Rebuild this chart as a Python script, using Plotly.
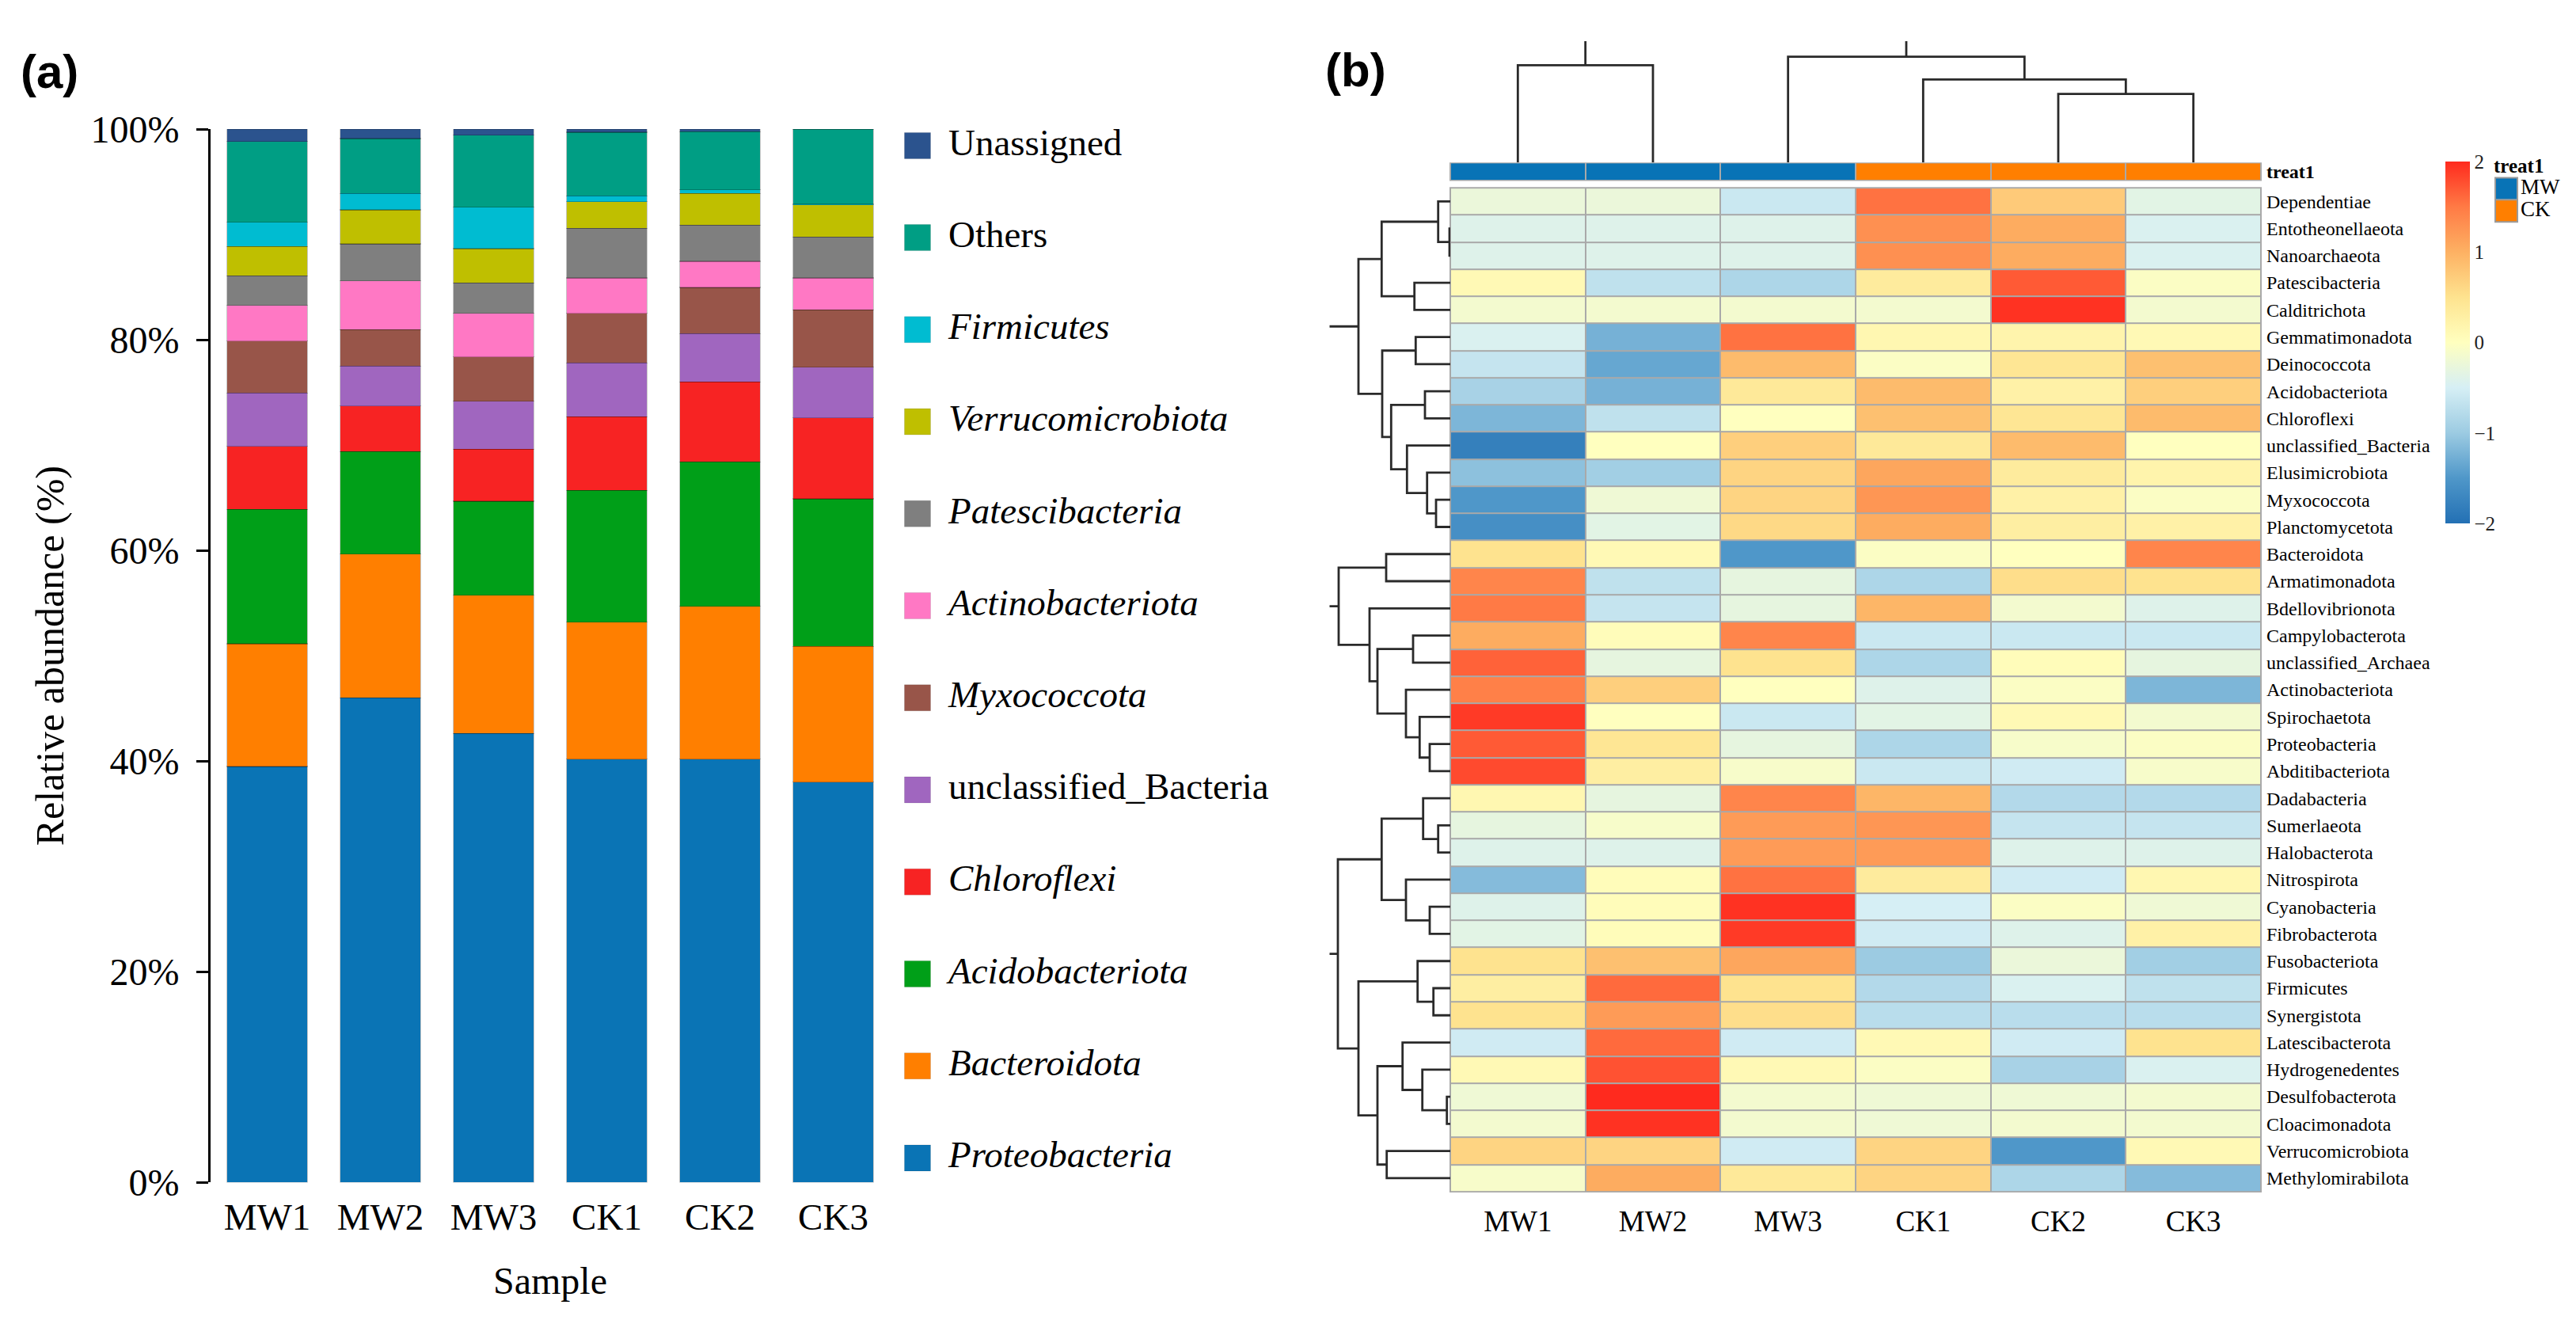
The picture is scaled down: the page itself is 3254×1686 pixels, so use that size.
import plotly.graph_objects as go

W, H = 3254, 1686
SERIF = "Liberation Serif"
SANS = "Liberation Sans"

# ---------------- (a) stacked bar data ----------------
samples = ["MW1", "MW2", "MW3", "CK1", "CK2", "CK3"]
phyla = ["Proteobacteria", "Bacteroidota", "Acidobacteriota", "Chloroflexi",
         "unclassified_Bacteria", "Myxococcota", "Actinobacteriota",
         "Patescibacteria", "Verrucomicrobiota", "Firmicutes", "Others", "Unassigned"]
italic_names = {"Proteobacteria", "Bacteroidota", "Acidobacteriota", "Chloroflexi",
                "Myxococcota", "Actinobacteriota", "Patescibacteria",
                "Verrucomicrobiota", "Firmicutes"}
phyla_colors = ["#0A74B5", "#FF7F00", "#009F18", "#F72323", "#A066BF", "#985549",
                "#FF78C4", "#7F7F7F", "#BFBF00", "#00BCD1", "#009E84", "#2B538E"]

proteobacteria = [39.5, 46.0, 42.62, 40.2, 40.2, 38.0]
bacteroidota = [11.65, 13.65, 13.13, 13.0, 14.5, 12.9]
acidobacteriota = [12.74, 9.75, 8.92, 12.5, 13.7, 14.0]
chloroflexi = [5.98, 4.33, 4.93, 7.0, 7.6, 7.7]
unclassified_bacteria = [5.08, 3.77, 4.57, 5.1, 4.6, 4.8]
myxococcota = [4.92, 3.47, 4.2, 4.7, 4.37, 5.43]
actinobacteriota = [3.4, 4.61, 4.13, 3.37, 2.48, 3.04]
patescibacteria = [2.8, 3.52, 2.91, 4.73, 3.45, 3.88]
verrucomicrobiota = [2.79, 3.23, 3.25, 2.5, 3.0, 3.05]
firmicutes = [2.3, 1.57, 3.91, 0.56, 0.35, 0.1]
others = [7.65, 5.2, 6.85, 6.04, 5.52, 7.07]
unassigned = [1.19, 0.9, 0.58, 0.3, 0.23, 0.03]
bar_series = [proteobacteria, bacteroidota, acidobacteriota, chloroflexi,
              unclassified_bacteria, myxococcota, actinobacteriota, patescibacteria,
              verrucomicrobiota, firmicutes, others, unassigned]
y_ticks = [0, 20, 40, 60, 80, 100]
y_ticklabels = ["0%", "20%", "40%", "60%", "80%", "100%"]

# ---------------- (b) heatmap data ----------------
genera = ["Dependentiae", "Entotheonellaeota", "Nanoarchaeota", "Patescibacteria",
          "Calditrichota", "Gemmatimonadota", "Deinococcota", "Acidobacteriota",
          "Chloroflexi", "unclassified_Bacteria", "Elusimicrobiota", "Myxococcota",
          "Planctomycetota", "Bacteroidota", "Armatimonadota", "Bdellovibrionota",
          "Campylobacterota", "unclassified_Archaea", "Actinobacteriota",
          "Spirochaetota", "Proteobacteria", "Abditibacteriota", "Dadabacteria",
          "Sumerlaeota", "Halobacterota", "Nitrospirota", "Cyanobacteria",
          "Fibrobacterota", "Fusobacteriota", "Firmicutes", "Synergistota",
          "Latescibacterota", "Hydrogenedentes", "Desulfobacterota",
          "Cloacimonadota", "Verrucomicrobiota", "Methylomirabilota"]
z_MW1 = [-0.25, -0.4, -0.4, 0.1, -0.15, -0.45, -0.65, -0.9, -1.2, -1.8, -1.1, -1.5, -1.6,
         0.5, 1.4, 1.5, 1.05, 1.65, 1.45, 1.9, 1.7, 1.8, 0.15, -0.3, -0.4, -1.15, -0.4,
         -0.35, 0.5, 0.3, 0.5, -0.55, 0.1, -0.2, -0.15, 0.65, -0.1]
z_MW2 = [-0.25, -0.4, -0.4, -0.7, -0.15, -1.25, -1.35, -1.25, -0.7, 0.0, -0.95, -0.2, -0.35,
         0.1, -0.7, -0.65, 0.05, -0.3, 0.7, 0.0, 0.45, 0.3, -0.3, -0.1, -0.4, 0.05, 0.05,
         0.05, 0.85, 1.6, 1.2, 1.6, 1.75, 2.0, 1.95, 0.65, 1.05]
z_MW3 = [-0.6, -0.4, -0.4, -0.85, -0.15, 1.55, 0.9, 0.4, 0.0, 0.7, 0.65, 0.65, 0.6,
         -1.5, -0.3, -0.3, 1.4, 0.5, 0.0, -0.6, -0.3, -0.1, 1.4, 1.2, 1.2, 1.55, 1.95,
         1.9, 1.1, 0.5, 0.55, -0.55, 0.1, -0.15, -0.15, -0.55, 0.4]
z_CK1 = [1.55, 1.3, 1.3, 0.35, -0.15, 0.15, -0.05, 0.9, 0.85, 0.4, 1.1, 1.25, 1.05,
         -0.05, -0.85, 0.95, -0.6, -0.85, -0.4, -0.35, -0.85, -0.6, 0.95, 1.25, 1.2, 0.35,
         -0.5, -0.55, -1.0, -0.8, -0.75, 0.1, -0.05, -0.2, -0.2, 0.65, 0.65]
z_CK2 = [0.75, 1.05, 1.05, 1.7, 1.95, 0.2, 0.45, 0.25, 0.45, 0.9, 0.35, 0.25, 0.3,
         0.0, 0.55, -0.15, -0.6, 0.05, -0.05, 0.1, -0.1, -0.55, -0.8, -0.65, -0.4, -0.55,
         -0.05, -0.4, -0.25, -0.45, -0.75, -0.55, -0.9, -0.2, -0.15, -1.5, -0.85]
z_CK3 = [-0.35, -0.45, -0.45, -0.05, -0.15, 0.1, 0.85, 0.7, 0.9, 0.0, 0.2, -0.05, 0.25,
         1.4, 0.5, -0.4, -0.6, -0.3, -1.2, -0.15, -0.05, -0.1, -0.8, -0.65, -0.4, 0.15,
         -0.2, 0.25, -0.95, -0.7, -0.75, 0.5, -0.45, -0.15, -0.15, 0.1, -1.15]
heat_columns = [z_MW1, z_MW2, z_MW3, z_CK1, z_CK2, z_CK3]
groups = ["MW", "MW", "MW", "CK", "CK", "CK"]
group_names = ["MW", "CK"]
group_colors = ["#0873B6", "#FF7F00"]
cbar_ticks = [-2, -1, 0, 1, 2]

# dendrogram linkages (child_a, child_b, height); ids >= n are earlier merges
row_merges = [(1, 2, 1.0), (0, 37, 15.3), (3, 4, 45.3), (38, 39, 86.7), (5, 6, 43.7),
              (7, 8, 32.0), (11, 12, 18.0), (10, 43, 29.3), (9, 44, 54.7), (42, 45, 74.7),
              (41, 46, 86.0), (40, 47, 116.0), (13, 14, 81.0), (20, 21, 26.0),
              (19, 50, 38.7), (18, 51, 56.0), (16, 17, 47.0), (53, 52, 92.0),
              (15, 54, 102.0), (49, 55, 141.0), (23, 24, 15.3), (22, 57, 34.3),
              (26, 27, 26.0), (25, 59, 56.0), (58, 60, 86.7), (29, 30, 21.3),
              (28, 62, 41.3), (33, 34, 4.3), (32, 64, 35.3), (31, 65, 60.3),
              (35, 36, 80.3), (66, 67, 92.0), (63, 68, 116.0), (61, 69, 142.0)]
row_roots = [48, 56, 70]
row_top = 152.7
col_merges = [(0, 1, 126.8), (4, 5, 89.3), (3, 7, 108.2), (2, 8, 137.9)]
col_roots = [6, 9]
col_top = 158.2

# ---------------- layout geometry (pixels) ----------------
BAR_L, BAR_R, BAR_T, BAR_B = 266, 1124, 141.5, 1515
HM_L, HM_R, HM_T, HM_B = 1832, 2856, 218, 1527
ANN_T, ANN_B = 186, 208
CD_T = 26.8
RD_L = 1679.3


def px_x(a, b):
    return [a / W, b / W]


def px_y(top, bottom):
    return [1 - bottom / H, 1 - top / H]


def dendro(n, merges, roots, top):
    pos = {i: float(i) for i in range(n)}
    hgt = {i: 0.0 for i in range(n)}
    p, h = [], []
    for k, (a, b, hh) in enumerate(merges):
        nid = n + k
        p += [pos[a], pos[a], pos[b], pos[b], None]
        h += [hgt[a], hh, hh, hgt[b], None]
        pos[nid] = (pos[a] + pos[b]) / 2
        hgt[nid] = hh
    for r in roots:
        p += [pos[r], pos[r], None]
        h += [hgt[r], top, None]
    return p, h


fig = go.Figure()

# stacked bars
for name, vals, col in zip(phyla, bar_series, phyla_colors):
    fig.add_trace(go.Bar(x=samples, y=vals, name=name, width=0.713,
                         marker=dict(color=col, line=dict(color="rgba(0,0,0,0.22)", width=1.2)),
                         showlegend=False, xaxis="x", yaxis="y"))

# manual legend for the bars (top entry = top of stack)
leg_names = phyla[::-1]
leg_colors = phyla_colors[::-1]
leg_y = [163 + 120 * i for i in range(len(leg_names))]
leg_text = [("<i>%s</i>" % n) if n in italic_names else n for n in leg_names]
fig.add_trace(go.Scatter(x=[1159] * len(leg_names), y=leg_y, mode="markers",
                         marker=dict(symbol="square", size=33, color=leg_colors,
                                     line=dict(color="rgba(0,0,0,0.1)", width=1)),
                         showlegend=False, hoverinfo="skip", xaxis="x3", yaxis="y3"))
fig.add_trace(go.Scatter(x=[1198] * len(leg_names), y=leg_y, mode="text", text=leg_text,
                         textposition="middle right",
                         textfont=dict(family=SERIF, size=47, color="black"),
                         showlegend=False, hoverinfo="skip", xaxis="x3", yaxis="y3"))

# heatmap
z_rows = [list(r) for r in zip(*heat_columns)]
colorscale = [[0.0, "#2370B4"], [0.125, "#4F97C9"], [0.25, "#9CCBE2"], [0.375, "#D6EFF5"],
              [0.5, "#FFFFBF"], [0.625, "#FEE38F"], [0.75, "#FDB163"], [0.875, "#FF7A45"],
              [1.0, "#FF2A1E"]]
fig.add_trace(go.Heatmap(z=z_rows, x=list(range(len(samples))), y=list(range(len(genera))),
                         zmin=-2, zmax=2, colorscale=colorscale, xgap=2, ygap=2,
                         colorbar=dict(x=3089 / W, xanchor="left", y=1 - 184 / H, yanchor="top",
                                       len=(656 - 184) / H, lenmode="fraction", thickness=31,
                                       thicknessmode="pixels", outlinewidth=0, xpad=0, ypad=0,
                                       tickvals=cbar_ticks, ticks="",
                                       tickfont=dict(family=SERIF, size=25, color="#222")),
                         xaxis="x4", yaxis="y4", hoverinfo="z"))

# annotation bar (treat1)
grp_idx = [group_names.index(g) for g in groups]
fig.add_trace(go.Heatmap(z=[grp_idx], x=list(range(len(samples))), y=[0], zmin=0, zmax=1,
                         colorscale=[[0, group_colors[0]], [0.5, group_colors[0]],
                                     [0.5, group_colors[1]], [1, group_colors[1]]],
                         showscale=False, xgap=2, xaxis="x5", yaxis="y5", hoverinfo="skip"))

# dendrograms
cp, ch = dendro(len(samples), col_merges, col_roots, col_top)
fig.add_trace(go.Scatter(x=cp, y=ch, mode="lines", line=dict(color="#2a2a2a", width=2.8),
                         showlegend=False, hoverinfo="skip", xaxis="x6", yaxis="y6"))
rp, rh = dendro(len(genera), row_merges, row_roots, row_top)
fig.add_trace(go.Scatter(x=rh, y=rp, mode="lines", line=dict(color="#2a2a2a", width=2.8),
                         showlegend=False, hoverinfo="skip", xaxis="x7", yaxis="y7"))

# treat1 group legend
fig.add_trace(go.Scatter(x=[3166, 3166], y=[219.5, 248], mode="markers",
                         marker=dict(symbol="square", size=28, color=group_colors,
                                     line=dict(color="#9a9a9a", width=2)),
                         showlegend=False, hoverinfo="skip", xaxis="x3", yaxis="y3"))
fig.add_trace(go.Scatter(x=[3184, 3184], y=[219.5, 248], mode="text", text=group_names,
                         textposition="middle right",
                         textfont=dict(family=SERIF, size=27, color="black"),
                         showlegend=False, hoverinfo="skip", xaxis="x3", yaxis="y3"))
fig.add_trace(go.Scatter(x=[3150], y=[192], mode="text", text=["<b>treat1</b>"],
                         textposition="middle right",
                         textfont=dict(family=SERIF, size=25, color="black"),
                         showlegend=False, hoverinfo="skip", xaxis="x3", yaxis="y3"))

noaxis = dict(visible=False, showgrid=False, zeroline=False, fixedrange=True)

fig.update_layout(
    width=W, height=H, margin=dict(l=0, r=0, t=0, b=0),
    paper_bgcolor="white", plot_bgcolor="rgba(0,0,0,0)",
    barmode="stack", showlegend=False,
    font=dict(family=SERIF, color="black"),
    xaxis=dict(domain=px_x(BAR_L, BAR_R), range=[-0.5, 5.5], type="category",
               showline=False, ticks="", showgrid=False, zeroline=False,
               tickfont=dict(family=SERIF, size=47), ticklabelstandoff=12,
               title=dict(text="Sample", font=dict(family=SERIF, size=48), standoff=38)),
    yaxis=dict(domain=px_y(BAR_T, BAR_B), range=[0, 100], tickmode="array",
               tickvals=y_ticks, ticktext=y_ticklabels,
               showline=True, linecolor="black", linewidth=3, ticks="outside", ticklen=15,
               tickwidth=3, tickcolor="black", showgrid=False, zeroline=False,
               tickfont=dict(family=SERIF, size=48), ticklabelstandoff=12,
               title=dict(text="Relative abundance (%)", font=dict(family=SERIF, size=50),
                          standoff=18)),
    xaxis3=dict(domain=[0, 1], range=[0, W], anchor="y3", **noaxis),
    yaxis3=dict(domain=[0, 1], range=[H, 0], anchor="x3", **noaxis),
    xaxis4=dict(domain=px_x(HM_L, HM_R), range=[-0.5, 5.5], anchor="y4",
                tickvals=list(range(len(samples))), ticktext=samples, ticks="",
                showgrid=False, zeroline=False, showline=False,
                tickfont=dict(family=SERIF, size=37), ticklabelstandoff=12),
    yaxis4=dict(domain=px_y(HM_T, HM_B), range=[len(genera) - 0.5, -0.5], anchor="x4",
                side="right", tickvals=list(range(len(genera))), ticktext=genera, ticks="",
                showgrid=False, zeroline=False, showline=False,
                tickfont=dict(family=SERIF, size=24), ticklabelstandoff=6),
    xaxis5=dict(domain=px_x(HM_L, HM_R), range=[-0.5, 5.5], anchor="y5",
                showticklabels=False, ticks="", showgrid=False, zeroline=False),
    yaxis5=dict(domain=px_y(ANN_T, ANN_B), range=[-0.5, 0.5], anchor="x5", side="right",
                tickvals=[0], ticktext=["<b>treat1</b>"], ticks="", showgrid=False,
                zeroline=False, tickfont=dict(family=SERIF, size=24), ticklabelstandoff=6),
    xaxis6=dict(domain=px_x(HM_L, HM_R), range=[-0.5, 5.5], anchor="y6", **noaxis),
    yaxis6=dict(domain=px_y(CD_T, ANN_T - 1), range=[0, col_top], anchor="x6", **noaxis),
    xaxis7=dict(domain=px_x(RD_L, HM_L), range=[row_top, 0], anchor="y7", **noaxis),
    yaxis7=dict(domain=px_y(HM_T, HM_B), range=[len(genera) - 0.5, -0.5], anchor="x7", **noaxis),
    shapes=[
        dict(type="rect", xref="paper", yref="paper", layer="below",
             x0=(HM_L - 1) / W, x1=(HM_R + 1) / W, y0=1 - (HM_B + 1) / H, y1=1 - (HM_T - 1) / H,
             fillcolor="#A9A9A9", line=dict(width=0)),
        dict(type="rect", xref="paper", yref="paper", layer="below",
             x0=(HM_L - 1) / W, x1=(HM_R + 1) / W, y0=1 - (ANN_B + 1) / H, y1=1 - (ANN_T - 1) / H,
             fillcolor="#A9A9A9", line=dict(width=0)),
    ],
    annotations=[
        dict(text="<b>(a)</b>", x=24 / W, y=1 - 67 / H, xref="paper", yref="paper",
             xanchor="left", yanchor="middle", showarrow=False,
             font=dict(family=SANS, size=60, color="black")),
        dict(text="<b>(b)</b>", x=1672 / W, y=1 - 65 / H, xref="paper", yref="paper",
             xanchor="left", yanchor="middle", showarrow=False,
             font=dict(family=SANS, size=60, color="black")),
    ],
)

fig.write_html("out.html", include_plotlyjs=True, full_html=True,
               config={"displayModeBar": False, "responsive": False},
               post_script="document.body.style.margin='0';document.body.style.overflow='hidden';")
